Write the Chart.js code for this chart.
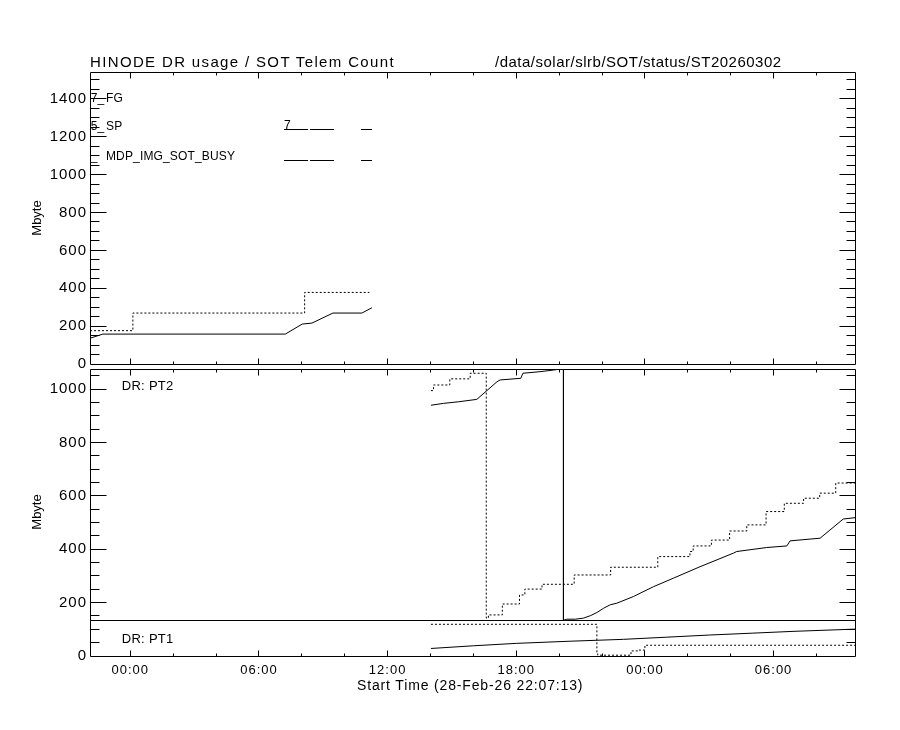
<!DOCTYPE html>
<html><head><meta charset="utf-8">
<script src="https://cdn.jsdelivr.net/npm/chart.js@4/dist/chart.umd.min.js"></script>
<style>
html,body{margin:0;padding:0;background:#fff;}
#wrap{position:relative;width:900px;height:730px;background:#fff;overflow:hidden;}
canvas{position:absolute;left:0;top:0;}
.t{position:absolute;white-space:nowrap;font-family:"Liberation Sans",Arial,sans-serif;color:#000;}
.lg{font-size:12px;line-height:12px;letter-spacing:0.15px;}
.ln{position:absolute;height:1px;background:#000;}
</style></head><body>
<div id="wrap">
<canvas id="cTop" width="900" height="730"></canvas>
<canvas id="cPT2" width="900" height="730"></canvas>
<canvas id="cPT1" width="900" height="730"></canvas>

<div class="t" style="left:90px;top:54px;font-size:15px;line-height:15px;letter-spacing:1.35px">HINODE DR usage / SOT Telem Count</div>
<div class="t" style="left:495px;top:54px;font-size:15px;line-height:15px;letter-spacing:0.5px">/data/solar/slrb/SOT/status/ST20260302</div>
<div class="t" style="left:357px;top:678px;font-size:14px;line-height:14px;letter-spacing:0.85px">Start Time (28-Feb-26 22:07:13)</div>
<div class="t" style="left:6.5px;top:211px;width:60px;height:14px;line-height:14px;font-size:13px;text-align:center;transform:rotate(-90deg)">Mbyte</div>
<div class="t" style="left:7px;top:505px;width:60px;height:14px;line-height:14px;font-size:13px;text-align:center;transform:rotate(-90deg)">Mbyte</div>
<div class="t" style="left:121.7px;top:379px;font-size:13px;line-height:13px;letter-spacing:0.3px">DR: PT2</div>
<div class="t" style="left:121.7px;top:632px;font-size:13px;line-height:13px;letter-spacing:0.3px">DR: PT1</div>

<div class="t lg" style="left:90.7px;top:91.5px">7<span style="letter-spacing:1.8px">_</span>FG</div>
<div class="t lg" style="left:90.7px;top:119.8px">5<span style="letter-spacing:1.8px">_</span>SP</div>
<div class="t lg" style="left:90.7px;top:149.8px"><span style="letter-spacing:8.6px">_</span>MDP_IMG_SOT_BUSY</div>
<div class="t lg" style="left:284px;top:118.8px">7</div>
<div class="ln" style="left:284px;top:129px;width:24px"></div>
<div class="ln" style="left:310px;top:129px;width:24px"></div>
<div class="ln" style="left:361px;top:129px;width:11px"></div>
<div class="ln" style="left:284px;top:160px;width:24px"></div>
<div class="ln" style="left:310px;top:160px;width:24px"></div>
<div class="ln" style="left:361px;top:160px;width:11px"></div>
</div>
<script>
const FONT = '"Liberation Sans", Arial, sans-serif';

// time axis: hours relative to 01-Mar-26 00:00
const X_MIN = -1.88, X_MAX = 33.83;
const X_TICK_HOURS = [0, 6, 12, 18, 24, 30];
const X_TICK_LABELS = ['00:00', '06:00', '12:00', '18:00', '00:00', '06:00'];

const TOP_Y_LABELS = [0, 200, 400, 600, 800, 1000, 1200, 1400];
const PT2_Y_LABELS = [200, 400, 600, 800, 1000];
const PT1_Y_LABELS = [0];
const TOP_Y_RANGE = [0, 1542];
const PT2_Y_RANGE = [134, 1076];
const PT1_Y_RANGE = [0, 134];

// top panel (SOT telemetry count)
const topSolidT = [-1.88, -1.28, 7.23, 8.02, 8.47, 9.45, 10.8, 11.27];
const topSolidV = [136, 158, 158, 211, 216, 269, 269, 297];
const topDotT = [-1.88, 0.12, 8.13, 11.15];
const topDotV = [176, 269, 378, 378];

// DR: PT2
const pt2SolidT = [14.02, 14.61, 15.31, 16.16, 17.10, 17.25, 18.21, 18.31, 19.11, 19.73, 20.05, 20.20, 20.20, 20.36, 20.75, 21.13, 21.45, 21.76, 22.07, 22.38, 22.69, 23.46, 24.40, 25.33, 26.57, 28.13, 28.28, 29.68, 30.62, 30.77, 32.17, 33.25, 33.80];
const pt2SolidV = [940, 947, 953, 962, 1028, 1035, 1041, 1060, 1066, 1072, 1076, 1076, 133, 137, 137, 141, 150, 162, 178, 191, 197, 222, 259, 291, 334, 385, 391, 406, 412, 431, 441, 513, 518];
const pt2DotT = [14.02, 14.14, 14.9, 15.85, 16.6, 16.7, 17.35, 18.15, 18.4, 19.2, 20.7, 22.4, 24.6, 26.1, 26.25, 27.1, 27.95, 28.75, 29.65, 30.5, 31.4, 32.15, 32.9, 33.8];
const pt2DotV = [995, 1016, 1039, 1060, 141, 153, 194, 228, 250, 268, 303, 332, 372, 391, 412, 434, 468, 491, 541, 572, 591, 610, 648, 650];

// DR: PT1
const pt1SolidT = [14.02, 16.0, 18.0, 20.5, 23.0, 25.0, 27.0, 29.0, 31.0, 33.8];
const pt1SolidV = [28, 38, 47, 55, 62, 70, 78, 85, 92, 100];
const pt1DotT = [14.02, 21.76, 21.8, 23.35, 23.7, 24.0, 33.8];
const pt1DotV = [118, 9, 3, 19, 22, 40, 40];

function pts(T, V) { return T.map((t, i) => ({ x: t, y: V[i] })); }
function solid(T, V) { return { data: pts(T, V), borderColor: '#000', borderWidth: 1, pointRadius: 0, fill: false, tension: 0 }; }
function dotted(T, V) { return { data: pts(T, V), borderColor: '#000', borderWidth: 1, borderDash: [2, 2], stepped: true, pointRadius: 0, fill: false }; }

const idlFrame = {
  id: 'idlFrame',
  beforeDraw(chart) { chart.ctx.letterSpacing = '1px'; },
  afterDraw(chart, args, o) {
    const { ctx, chartArea: a } = chart;
    const xs = chart.scales.x, ys = chart.scales.y;
    const px = v => Math.floor(v) + 0.5;
    const L = px(a.left), R = px(a.right), T = px(a.top), B = px(a.bottom);
    ctx.save();
    ctx.letterSpacing = '0px';
    ctx.strokeStyle = '#000';
    ctx.lineWidth = 1;
    ctx.setLineDash([]);
    ctx.beginPath();
    ctx.moveTo(L, T); ctx.lineTo(R, T); ctx.lineTo(R, B); ctx.lineTo(L, B); ctx.closePath();
    for (let v = Math.ceil(ys.min / 50) * 50; v <= ys.max; v += 50) {
      const yy = px(ys.getPixelForValue(v));
      if (yy <= T + 0.1 || yy >= B - 0.1) continue;
      const len = v % 200 === 0 ? 16 : 9;
      ctx.moveTo(L, yy); ctx.lineTo(L + len, yy);
      ctx.moveTo(R, yy); ctx.lineTo(R - len, yy);
    }
    for (let h = 0; h <= xs.max; h += 2) {
      if (h < xs.min) continue;
      const xx = px(xs.getPixelForValue(h));
      const len = h % 6 === 0 ? 6 : 3;
      if (o.xTop) { ctx.moveTo(xx, T); ctx.lineTo(xx, T + len); }
      if (o.xBottom) { ctx.moveTo(xx, B); ctx.lineTo(xx, B - len); }
    }
    ctx.stroke();
    ctx.restore();
  }
};

function makeChart(id, cfg) {
  return new Chart(document.getElementById(id), {
    type: 'line',
    data: { datasets: cfg.datasets },
    options: {
      animation: false, responsive: false, maintainAspectRatio: false, events: [],
      layout: { padding: { left: 0, right: 900 - 855.7, top: cfg.top, bottom: cfg.bottom } },
      plugins: { legend: { display: false }, tooltip: { enabled: false }, idlFrame: cfg.frame },
      scales: {
        x: {
          type: 'linear', min: X_MIN, max: X_MAX, display: cfg.showX,
          grid: { display: false, drawTicks: false }, border: { display: false },
          ticks: { color: '#000', font: { family: FONT, size: 13 }, padding: 7, maxRotation: 0, autoSkip: false,
                   callback: (v, i) => X_TICK_LABELS[i] },
          afterBuildTicks: s => { s.ticks = X_TICK_HOURS.map(v => ({ value: v })); },
          afterFit: s => { s.height = cfg.xHeight || 0; }
        },
        y: {
          type: 'linear', min: cfg.yr[0], max: cfg.yr[1], position: 'left',
          grid: { display: false, drawTicks: false }, border: { display: false },
          ticks: { color: '#000', font: { family: FONT, size: 15 }, padding: 3, autoSkip: false,
                   callback: v => String(v) },
          afterBuildTicks: s => { s.ticks = cfg.ylabels.map(v => ({ value: v })); },
          afterFit: s => { s.width = 90; }
        }
      }
    },
    plugins: [idlFrame]
  });
}

makeChart('cTop', {
  datasets: [solid(topSolidT, topSolidV), dotted(topDotT, topDotV)],
  top: 72, bottom: 730 - 364, showX: false, yr: TOP_Y_RANGE, ylabels: TOP_Y_LABELS,
  frame: { xTop: true, xBottom: true }
});
makeChart('cPT2', {
  datasets: [solid(pt2SolidT, pt2SolidV), dotted(pt2DotT, pt2DotV)],
  top: 369, bottom: 730 - 620, showX: false, yr: PT2_Y_RANGE, ylabels: PT2_Y_LABELS,
  frame: { xTop: true, xBottom: false }
});
makeChart('cPT1', {
  datasets: [solid(pt1SolidT, pt1SolidV), dotted(pt1DotT, pt1DotV)],
  top: 620, bottom: 0, showX: true, xHeight: 74, yr: PT1_Y_RANGE, ylabels: PT1_Y_LABELS,
  frame: { xTop: false, xBottom: true }
});
</script>
</body></html>
